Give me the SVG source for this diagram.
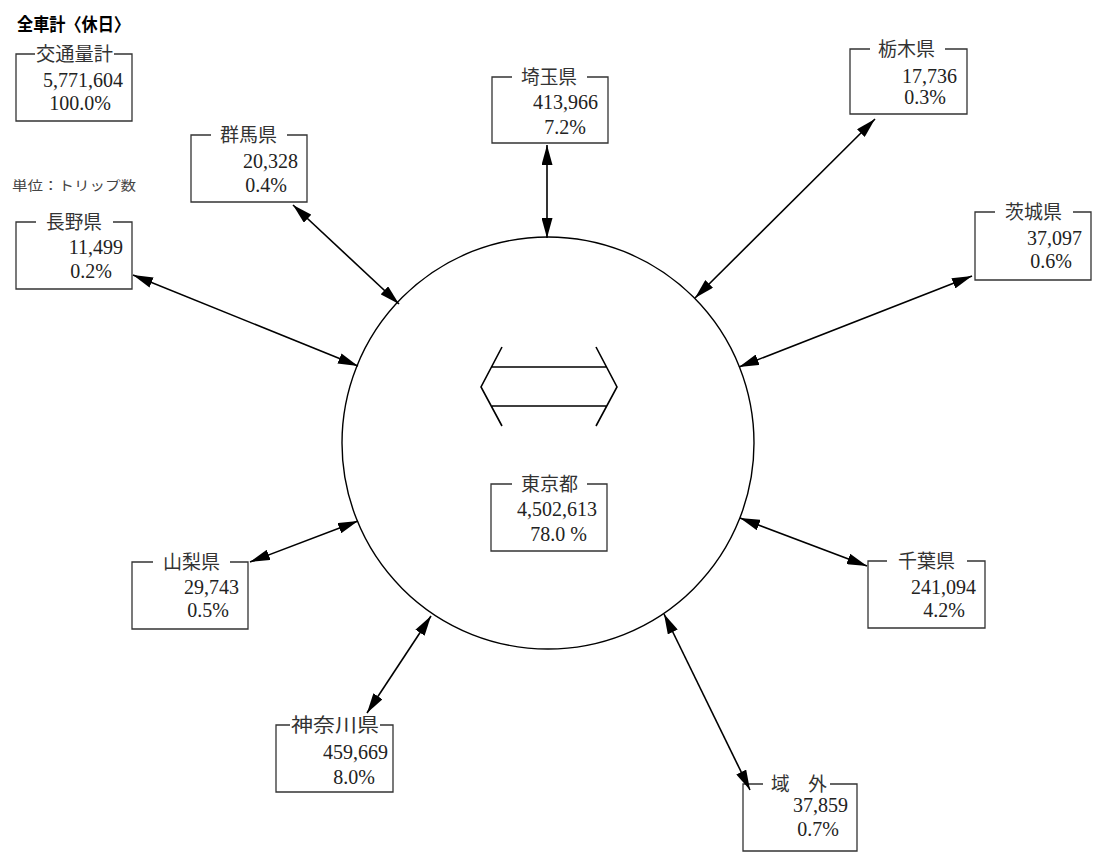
<svg xmlns="http://www.w3.org/2000/svg" width="1097" height="855" viewBox="0 0 1097 855">
<style>
.bx{fill:none;stroke:#333;stroke-width:1.3}
.tt{font-family:"Noto Sans CJK JP",sans-serif;font-size:19px;fill:#333}
.nm{font-family:"Liberation Serif",serif;font-size:20px;fill:#222;text-anchor:end}
.cn{stroke:#000;stroke-width:1.6;fill:none;marker-start:url(#ah);marker-end:url(#ah)}
</style>
<defs>
<marker id="ah" markerUnits="userSpaceOnUse" markerWidth="21" markerHeight="11" refX="20" refY="5.5" orient="auto-start-reverse">
<path d="M0,0 L20,5.5 L0,11 z" fill="#000"/>
</marker>
</defs>
<rect width="1097" height="855" fill="#fff"/>
<text x="17" y="31" font-family="'Noto Sans CJK JP',sans-serif" font-size="18" font-weight="bold" textLength="113" lengthAdjust="spacingAndGlyphs">全車計〈休日〉</text>
<text x="12" y="190" font-family="'Noto Sans CJK JP',sans-serif" font-size="13" fill="#444" textLength="124" lengthAdjust="spacingAndGlyphs">単位：トリップ数</text>

<g id="tokyo">
<circle cx="548" cy="443" r="206" fill="none" stroke="#000" stroke-width="1.4"/>
<path d="M502,347 L481,387 L502,426 M596,347 L617,387 L596,426 M492,367 H607 M492,406 H607" fill="none" stroke="#000" stroke-width="1.6"/>
<path class="bx" d="M512,484 H491 V551 H607 V484 H587"/>
<text class="tt" x="521" y="491" textLength="57" lengthAdjust="spacingAndGlyphs">東京都</text>
<text class="nm" x="597" y="516">4,502,613</text>
<text class="nm" x="587" y="541">78.0 %</text>
</g>

<g id="total">
<path class="bx" d="M35,54 H16 V121 H132 V54 H114"/>
<text class="tt" x="36" y="61" textLength="77" lengthAdjust="spacingAndGlyphs">交通量計</text>
<text class="nm" x="123" y="87">5,771,604</text>
<text class="nm" x="111" y="110">100.0%</text>
</g>

<g id="saitama">
<path class="bx" d="M512,77 H492 V143 H608 V77 H587"/>
<text class="tt" x="521" y="84" textLength="56" lengthAdjust="spacingAndGlyphs">埼玉県</text>
<text class="nm" x="598" y="109">413,966</text>
<text class="nm" x="586" y="134">7.2%</text>
</g>

<g id="tochigi">
<path class="bx" d="M870,49 H850 V114 H967 V49 H945"/>
<text class="tt" x="878" y="56" textLength="57" lengthAdjust="spacingAndGlyphs">栃木県</text>
<text class="nm" x="957" y="83">17,736</text>
<text class="nm" x="946" y="104">0.3%</text>
</g>

<g id="gunma">
<path class="bx" d="M211,135 H191 V202 H307 V135 H287"/>
<text class="tt" x="220" y="142" textLength="57" lengthAdjust="spacingAndGlyphs">群馬県</text>
<text class="nm" x="298" y="168">20,328</text>
<text class="nm" x="287" y="192">0.4%</text>
</g>

<g id="nagano">
<path class="bx" d="M36,222 H16 V289 H132 V222 H113"/>
<text class="tt" x="46" y="229" textLength="56" lengthAdjust="spacingAndGlyphs">長野県</text>
<text class="nm" x="123" y="254">11,499</text>
<text class="nm" x="112" y="278">0.2%</text>
</g>

<g id="ibaraki">
<path class="bx" d="M995,212 H975 V280 H1091 V212 H1073"/>
<text class="tt" x="1005" y="219" textLength="57" lengthAdjust="spacingAndGlyphs">茨城県</text>
<text class="nm" x="1082" y="245">37,097</text>
<text class="nm" x="1072" y="268">0.6%</text>
</g>

<g id="yamanashi">
<path class="bx" d="M153,562 H132 V629 H248 V562 H230"/>
<text class="tt" x="163" y="569" textLength="57" lengthAdjust="spacingAndGlyphs">山梨県</text>
<text class="nm" x="239" y="594">29,743</text>
<text class="nm" x="229" y="617">0.5%</text>
</g>

<g id="chiba">
<path class="bx" d="M887,561 H868 V628 H985 V561 H967"/>
<text class="tt" x="898" y="568" textLength="57" lengthAdjust="spacingAndGlyphs">千葉県</text>
<text class="nm" x="976" y="594">241,094</text>
<text class="nm" x="965" y="617">4.2%</text>
</g>

<g id="kanagawa">
<path class="bx" d="M290,725 H276 V792 H393 V725 H380"/>
<text class="tt" x="291" y="732" textLength="88" lengthAdjust="spacingAndGlyphs">神奈川県</text>
<text class="nm" x="388" y="759">459,669</text>
<text class="nm" x="375" y="784">8.0%</text>
</g>

<g id="outside">
<path class="bx" d="M763,784 H743 V851 H857 V784 H830"/>
<text class="tt" x="771" y="791" textLength="56" lengthAdjust="spacingAndGlyphs">域　外</text>
<text class="nm" x="848" y="812">37,859</text>
<text class="nm" x="839" y="836">0.7%</text>
</g>

<g id="connectors">
<line class="cn" x1="547" y1="145" x2="547" y2="238"/>
<line class="cn" x1="875" y1="119" x2="695" y2="298"/>
<line class="cn" x1="293" y1="205" x2="399" y2="304"/>
<line class="cn" x1="133" y1="275" x2="358" y2="366"/>
<line class="cn" x1="972" y1="276" x2="739" y2="367"/>
<line class="cn" x1="740" y1="518" x2="867" y2="566"/>
<line class="cn" x1="250" y1="562" x2="358" y2="521"/>
<line class="cn" x1="431" y1="616" x2="367" y2="713"/>
<line class="cn" x1="664" y1="614" x2="750" y2="790"/>
</g>
</svg>
